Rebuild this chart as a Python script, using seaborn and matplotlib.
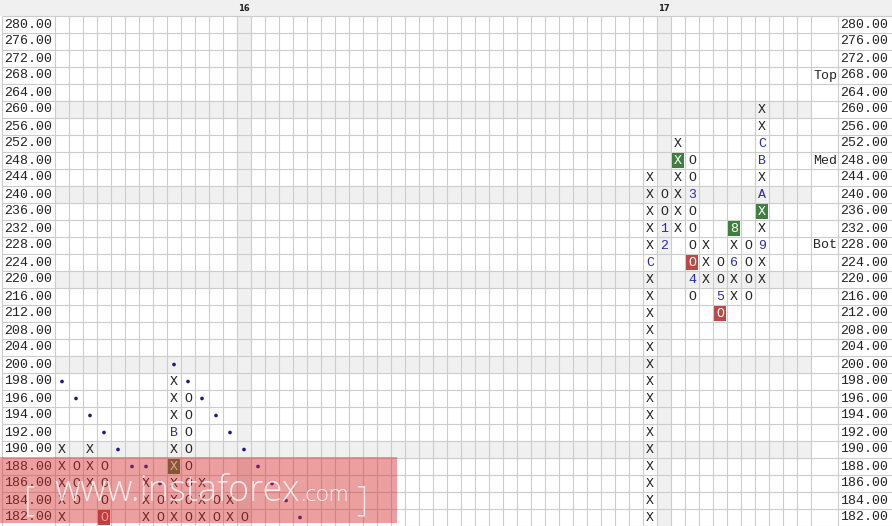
import numpy as np
import pandas as pd
import matplotlib
matplotlib.use('Agg')
import matplotlib.pyplot as plt
import seaborn as sns
from matplotlib.patches import Rectangle

# price levels shown on the axis (box size 4 above 200, 2 below)
price_levels = [280, 276, 272, 268, 264, 260, 256, 252, 248, 244, 240, 236, 232,
                228, 224, 220, 216, 212, 208, 204, 200, 198, 196, 194, 192, 190,
                188, 186, 184, 182]
shaded_prices = [260, 240, 220, 200, 190]
n_cols = 54
year_cols = [13, 43]
year_names = ['16', '17']

# point & figure columns
pf_cols = [0, 1, 2, 3, 6, 7, 8, 9, 10, 11, 12, 13, 42, 43, 44, 45, 46, 47, 48, 49, 50]
pf_type = ['X', 'O', 'X', 'O', 'X', 'O', 'X', 'O', 'X', 'O', 'X', 'O',
           'X', 'O', 'X', 'O', 'X', 'O', 'X', 'O', 'X']
pf_high = [190, 188, 190, 188, 186, 184, 198, 196, 186, 184, 184, 182,
           244, 240, 252, 248, 228, 224, 232, 228, 260]
pf_low = [182, 184, 186, 182, 182, 182, 182, 182, 182, 182, 182, 182,
          182, 228, 232, 216, 220, 212, 216, 216, 220]

# month markers replacing X/O
month_col = [8, 42, 43, 43, 45, 45, 47, 48, 48, 50, 50, 50, 50]
month_price = [192, 224, 232, 228, 240, 220, 216, 224, 232, 228, 240, 248, 252]
month_label = ['B', 'C', '1', '2', '3', '4', '5', '6', '8', '9', 'A', 'B', 'C']

# signal boxes
green_col = [44, 48, 50, 8]
green_price = [248, 232, 236, 188]
red_col = [45, 47, 3]
red_price = [224, 212, 182]

# trend line dots
trend_col = [0, 1, 2, 3, 4, 5, 6, 7, 8, 9, 10, 11, 12, 13, 14, 15, 16, 17]
trend_price = [198, 196, 194, 192, 190, 188, 188, 186,
               200, 198, 196, 194, 192, 190, 188, 186, 184, 182]

side_labels = ['Top', 'Med', 'Bot']
side_prices = [268, 248, 228]

row_of = {p: i for i, p in enumerate(price_levels)}
n_rows = len(price_levels)

sns.set_theme(style='white')
plt.rcParams['font.family'] = ['Liberation Mono', 'DejaVu Sans']

fig = plt.figure(figsize=(8.92, 5.26), dpi=100)
ax = fig.add_axes([0, 0, 1, 1])
x_left = -55 / 14
x_right = (892 - 55) / 14
y_top = -16 / 17

grid_c = '#cccccc'
shade_c = '#f0f0f0'

# header strip
ax.add_patch(Rectangle((x_left, y_top), x_right - x_left, -y_top, color=shade_c, lw=0, zorder=0))
for c, name in zip(year_cols, year_names):
    ax.text(c + 0.5, y_top / 2 + 0.03, name, ha='center', va='center', fontsize=6,
            fontweight='bold', family='DejaVu Sans', color='#222222')

# shaded rows / columns
for p in shaded_prices:
    ax.add_patch(Rectangle((0, row_of[p]), n_cols, 1, color=shade_c, lw=0, zorder=0))
for c in year_cols:
    ax.add_patch(Rectangle((c, 0), 1, n_rows, color=shade_c, lw=0, zorder=0))

# grid
ax.hlines(np.arange(n_rows + 1), x_left + 1.5 / 14, x_right, color=grid_c, lw=0.8, zorder=1)
ax.vlines(np.arange(n_cols + 1), 0, n_rows, color=grid_c, lw=0.8, zorder=1)
ax.vlines([x_left + 1.5 / 14, n_cols + 27 / 14], 0, n_rows, color=grid_c, lw=0.8, zorder=1)

# axis labels both sides
for p in price_levels:
    y = row_of[p] + 0.5
    ax.text(x_left + 4.5 / 14, y, f'{p:.2f}', ha='left', va='center', fontsize=9.5, color='#222222', zorder=3)
    ax.text(n_cols + 29 / 14, y, f'{p:.2f}', ha='left', va='center', fontsize=9.5, color='#222222', zorder=3)
for lab, p in zip(side_labels, side_prices):
    ax.text(n_cols + 26 / 14, row_of[p] + 0.5, lab, ha='right', va='center', fontsize=9.5,
            color='#222222', zorder=3)

# build mark table
recs = []
for c, t, hi, lo in zip(pf_cols, pf_type, pf_high, pf_low):
    for p in price_levels:
        if lo <= p <= hi:
            recs.append({'col': c, 'price': p, 'mark': t, 'color': '#222222'})
marks = pd.DataFrame(recs)
for c, p, lab in zip(month_col, month_price, month_label):
    sel = (marks['col'] == c) & (marks['price'] == p)
    marks.loc[sel, 'mark'] = lab
    marks.loc[sel, 'color'] = '#2b2bb0'
for cols, prices, fc in [(green_col, green_price, '#3f7f3f'), (red_col, red_price, '#b84a47')]:
    for c, p in zip(cols, prices):
        ax.add_patch(Rectangle((c + 0.07, row_of[p] + 0.06), 0.86, 0.88, color=fc, lw=0, zorder=2))
        sel = (marks['col'] == c) & (marks['price'] == p)
        marks.loc[sel, 'color'] = 'white'

for _, r in marks.iterrows():
    ax.text(r['col'] + 0.5, row_of[r['price']] + 0.55, r['mark'], ha='center', va='center',
            fontsize=9.5, color=r['color'], zorder=3)

trend = pd.DataFrame({'x': np.array(trend_col) + 0.5,
                      'y': [row_of[p] + 0.5 for p in trend_price]})
sns.scatterplot(data=trend, x='x', y='y', ax=ax, s=7, color='#1a1a8c', edgecolor='none', zorder=3)
ax.set_xlim(x_left, x_right)
ax.set_ylim(n_rows, y_top)
ax.axis('off')

# watermark
wm_x1 = (397 - 55) / 14
wm_y0 = (457 - 16) / 17
wm_y1 = (523 - 16) / 17
ax.add_patch(Rectangle((x_left, wm_y0), wm_x1 - x_left, wm_y1 - wm_y0, color='#d42a2a',
                       alpha=0.45, lw=0, zorder=5))
base_y = (501 - 16) / 17
wm_style = dict(family='Open Sans', fontweight='light', color='white', alpha=0.8,
                va='baseline', ha='left', zorder=6)
t1 = ax.text((24 - 55) / 14, (510 - 16) / 17, '[', fontsize=25, **wm_style)
t2 = ax.annotate('www.instaforex', xy=(1, base_y), xycoords=(t1, 'data'),
                 xytext=(14, 0), textcoords='offset points', fontsize=26, **wm_style)
t3 = ax.annotate('.com', xy=(1, base_y), xycoords=(t2, 'data'), fontsize=16, **wm_style)
ax.annotate(']', xy=(1, (510 - 16) / 17), xycoords=(t3, 'data'),
            xytext=(5, 0), textcoords='offset points', fontsize=25, **wm_style)

fig.savefig('out.png', dpi=100)
